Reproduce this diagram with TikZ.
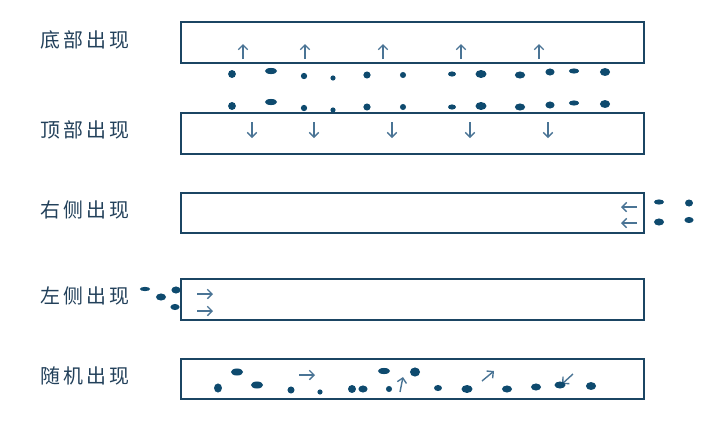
\documentclass[tikz,border=0pt]{standalone}
\usepackage{fontspec}
\usepackage{tikz}
\usetikzlibrary{arrows.meta}
\newfontfamily\cjk[LetterSpace=15]{Noto Sans CJK SC}
\definecolor{lanec}{HTML}{1B4563}
\definecolor{dotc}{HTML}{0E4A6E}
\definecolor{arrc}{HTML}{4A7495}
\definecolor{txtc}{HTML}{22405A}
\tikzset{
  lane/.style={draw=lanec, line width=1.6pt},
  lbl/.style={text=txtc, font=\cjk\fontsize{17}{20}\selectfont},
  mv/.style={arrc, line width=1.2pt, -{Straight Barb[length=4pt,width=8pt]}},
}

\begin{document}
\begin{tikzpicture}[x=0.03cm, y=-0.03cm]
\useasboundingbox (0,0) rectangle (722,434);

% labels
\node[lbl] (lbottom) at (85,40) {底部出现};
\node[lbl] (ltop) at (85,130) {顶部出现};
\node[lbl] (lright) at (85,210) {右侧出现};
\node[lbl] (lleft) at (85,296) {左侧出现};
\node[lbl] (lrandom) at (85,376) {随机出现};

% lanes
\draw[lane] (181,22) rectangle (644,63);
\draw[lane] (181,113) rectangle (644,154);
\draw[lane] (181,193) rectangle (644,233);
\draw[lane] (181,279) rectangle (644,320);
\draw[lane] (181,359) rectangle (644,399);

% bottom: up arrows and dots
\foreach \x in {243,305,383,461,539}
  \draw[mv] (\x,59) -- (\x,44);
\foreach \x/\y/\a/\b in {232/74/3.3/3.4, 271/71/5.2/2.6, 304/76/2.7/2.7, 333/78/2.2/2.2,
    367/75/3.1/3, 403/75/2.6/2.6, 452/74/3.4/2.2, 481/74/4.7/3.4,
    520/75/4.4/3, 550/72/3.9/3, 574/71/4.4/2.2, 605/72/4.3/3.4}
  \fill[dotc] (\x,\y) ellipse [x radius=\a pt, y radius=\b pt];

% top: down arrows and dots
\foreach \x in {252,314,392,470,548}
  \draw[mv] (\x,122) -- (\x,138);
\foreach \x/\y/\a/\b in {232/106/3.3/3.4, 271/102/5.2/2.6, 304/108/2.7/2.7, 333/110/2.2/2.2,
    367/107/3.1/3, 403/107/2.6/2.6, 452/107/3.4/2.2, 481/106/4.7/3.4,
    520/107/4.4/3, 550/105/3.9/3, 574/103/4.4/2.2, 605/104/4.3/3.4}
  \fill[dotc] (\x,\y) ellipse [x radius=\a pt, y radius=\b pt];

% right side
\draw[mv] (637,207) -- (621,207);
\draw[mv] (637,223) -- (621,223);
\foreach \x/\y/\a/\b in {659/202/4.3/2.2, 689/203/3.4/3, 659/222/4.3/3, 689/220/3.9/2.6}
  \fill[dotc] (\x,\y) ellipse [x radius=\a pt, y radius=\b pt];

% left side
\draw[mv] (197,294) -- (213,294);
\draw[mv] (197,311) -- (213,311);
\foreach \x/\y/\a/\b in {145/289/4.3/1.8, 161/297/4.3/3, 176/290/3.9/3, 175/307/3.9/2.6}
  \fill[dotc] (\x,\y) ellipse [x radius=\a pt, y radius=\b pt];

% random
\draw[mv] (299,375) -- (315,375);
\draw[mv] (400,392) -- (403,377);
\draw[mv] (482,381) -- (494,371);
\draw[mv] (573,374) -- (562,384);
\foreach \x/\y/\a/\b in {218/388/3.4/3.9, 237/372/5.2/3, 257/385/5.2/3, 291/390/3/3,
    320/392/2.2/2.2, 352/389/3.4/3.4, 363/389/3.9/3, 384/371/5.2/2.6,
    389/389/2.6/2.6, 415/372/4.3/3.9, 438/388/3.4/2.6, 467/389/4.7/3.4,
    507/389/4.3/3, 536/387/4.3/3, 560/385/4.7/3, 591/386/4.3/3.4}
  \fill[dotc] (\x,\y) ellipse [x radius=\a pt, y radius=\b pt];

\end{tikzpicture}
\end{document}
